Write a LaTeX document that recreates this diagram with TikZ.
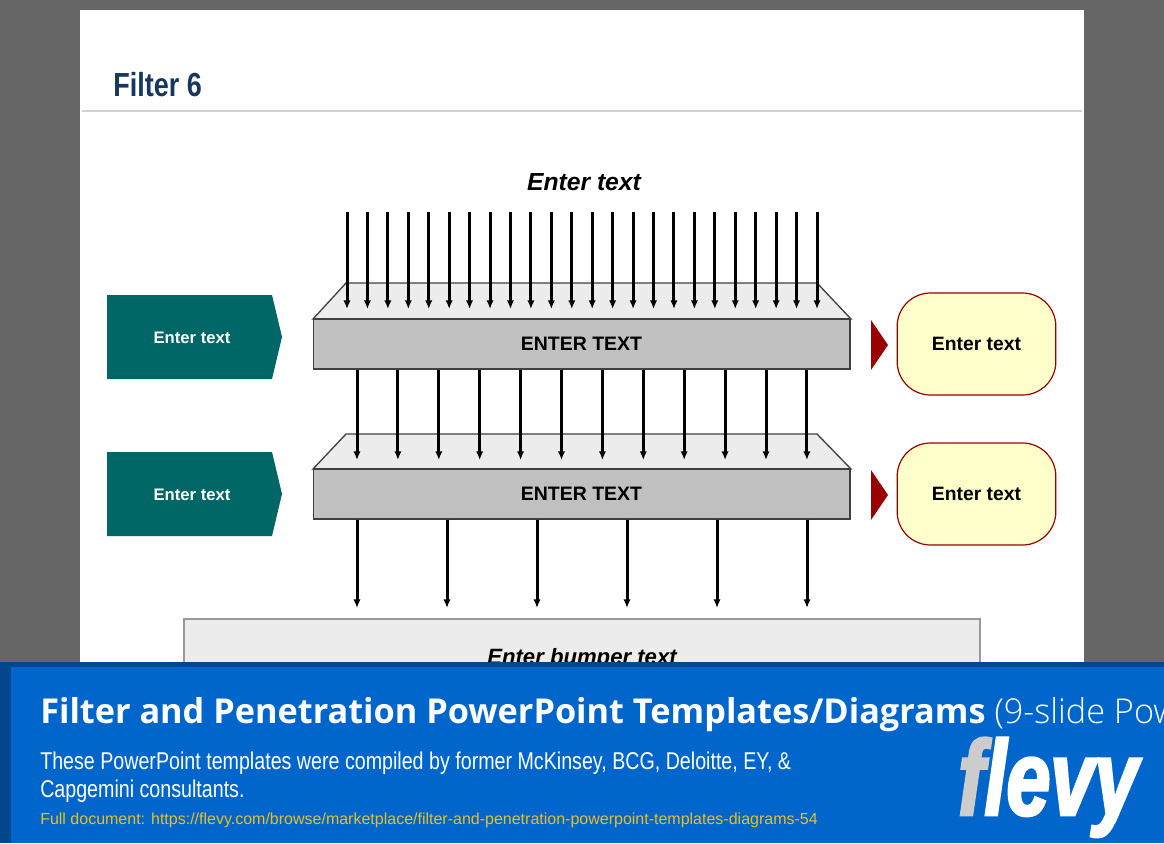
\documentclass[tikz,border=0pt]{standalone}
\usepackage{fontspec}
\usetikzlibrary{arrows.meta, positioning}
\setmainfont{Liberation Sans}
\newfontfamily\narrowfont[FakeStretch=0.81]{Liberation Sans}
\newfontfamily\logofont[FakeStretch=0.74, FakeBold=2.5]{Liberation Sans}
\newfontfamily\bannerfont{Open Sans}
\newfontfamily\bannerlight{Open Sans Light}
\definecolor{pagegray}{HTML}{666666}
\definecolor{tealbox}{HTML}{006666}
\definecolor{darkred}{HTML}{990000}
\definecolor{paleyellow}{HTML}{FFFFCC}
\definecolor{filtergray}{HTML}{C0C0C0}
\definecolor{lightgray}{HTML}{ECECEC}
\definecolor{edgegray}{HTML}{404040}
\definecolor{titleblue}{HTML}{17375E}
\definecolor{bannerblue}{HTML}{0066CC}
\definecolor{bannerdark}{HTML}{00478F}
\definecolor{urlyellow}{HTML}{EDBE22}
\tikzset{
  filterbox/.style={draw=edgegray, line width=1pt, fill=filtergray, minimum width=402.5pt, minimum height=37.5pt, inner sep=0pt, font=\fontsize{14.6}{16}\selectfont\bfseries},
  filtertop/.style={draw=edgegray, line width=1pt, fill=lightgray},
  tealshape/.style={fill=tealbox},
  tealtext/.style={text=white, font=\fontsize{12.5}{15}\selectfont\bfseries},
  resultbox/.style={draw=darkred, line width=0.9pt, fill=paleyellow, rounded corners=25pt, minimum width=119pt, minimum height=76.5pt, inner sep=0pt, font=\fontsize{14.5}{16}\selectfont\bfseries},
  flowarrow/.style={line width=2.25pt, -{Latex[length=6.5pt,width=5.5pt]}},
  bannertext/.style={anchor=base west, inner sep=0pt, text=white}
}
\begin{document}
\begin{tikzpicture}[x=0.75pt, y=-0.75pt]

    \useasboundingbox (0,0) rectangle (1164,843);
    \clip (0,0) rectangle (1164,843);

    % Page background and white slide
    \fill[pagegray] (0,0) rectangle (1164,843);
    \fill[white] (80,10) rectangle (1084,843);
    \node[anchor=base west, inner sep=0pt, text=titleblue, font=\fontsize{25}{28}\selectfont\narrowfont\bfseries] (slidetitle) at (113,96) {Filter 6};
    \draw[color=black!18, line width=1pt] (82,111) -- (1082,111);
    \node[font=\fontsize{18.5}{22}\selectfont\bfseries\itshape] (toplabel) at (584,182) {Enter text};

    % The two filters
    \draw[filtertop] (313,319) -- (346,283) -- (817,283) -- (851,319) -- cycle;
    \node[filterbox] (filterone) at (581.5,344) {ENTER TEXT};
    \draw[filtertop] (313,469) -- (346,434) -- (817,434) -- (851,469) -- cycle;
    \node[filterbox] (filtertwo) at (581.5,494) {ENTER TEXT};

    % Left labels
    \fill[tealshape] (107,295) -- (272,295) -- (282,337) -- (272,379) -- (107,379) -- cycle;
    \node[tealtext] (leftone) at (192,338) {Enter text};
    \fill[tealshape] (107,452) -- (272,452) -- (282,494) -- (272,536) -- (107,536) -- cycle;
    \node[tealtext] (lefttwo) at (192,495) {Enter text};

    % Red triangles and result boxes
    \fill[darkred] (871,320) -- (888,345) -- (871,370) -- cycle;
    \node[resultbox] (resultone) at (976.5,344) {\raisebox{-0.75pt}{Enter text}};
    \fill[darkred] (871,470) -- (888,495) -- (871,520) -- cycle;
    \node[resultbox] (resulttwo) at (976.5,494) {\raisebox{-0.75pt}{Enter text}};

    % Bumper
    \node[draw=black!40, line width=0.8pt, fill=lightgray, minimum width=597pt, minimum height=60pt, inner sep=0pt, font=\fontsize{16.6}{20}\selectfont\bfseries\itshape] (bumper) at (582,659) {\raisebox{-0.75pt}{Enter bumper text}};

    % Arrows through the filters
    \foreach \i in {0,...,23} {
        \coordinate (topstart\i) at ({347+\i*20.435},212);
        \coordinate (topend\i) at ({347+\i*20.435},309);
        \draw[flowarrow] (topstart\i) -- (topend\i);
    }
    \foreach \i in {0,...,11} {
        \coordinate (midend\i) at ({357+\i*40.9},460);
        \draw[flowarrow] (filterone.south -| midend\i) -- (midend\i);
    }
    \foreach \i in {0,...,5} {
        \coordinate (lowend\i) at ({357+\i*90},608);
        \draw[flowarrow] (filtertwo.south -| lowend\i) -- (lowend\i);
    }

    % Banner
    \fill[bannerdark] (0,662) rectangle (1164,843);
    \fill[bannerblue] (11,667) rectangle (1164,843);
    \node[bannertext, font=\fontsize{25.7}{30}\selectfont\bannerfont] (bannertitle) at (40,723) {\bfseries Filter and Penetration PowerPoint Templates/Diagrams \bannerlight\mdseries (9-slide Pow};
    \node[bannertext, font=\fontsize{18.2}{21}\selectfont\narrowfont] (bannerlineone) at (40,769) {These PowerPoint templates were compiled by former McKinsey, BCG, Deloitte, EY, \&};
    \node[bannertext, font=\fontsize{18.2}{21}\selectfont\narrowfont] (bannerlinetwo) at (40,797) {Capgemini consultants.};
    \node[bannertext, text=urlyellow, font=\fontsize{12}{14}\selectfont] (bannerurl) at (40,824) {Full document: https://flevy.com/browse/marketplace/filter-and-penetration-powerpoint-templates-diagrams-54};
    \node[bannertext, font=\fontsize{80}{85}\selectfont\logofont\bfseries\itshape] (logo) at (958,815) {\textcolor{black!20}{f}levy};

\end{tikzpicture}
\end{document}
